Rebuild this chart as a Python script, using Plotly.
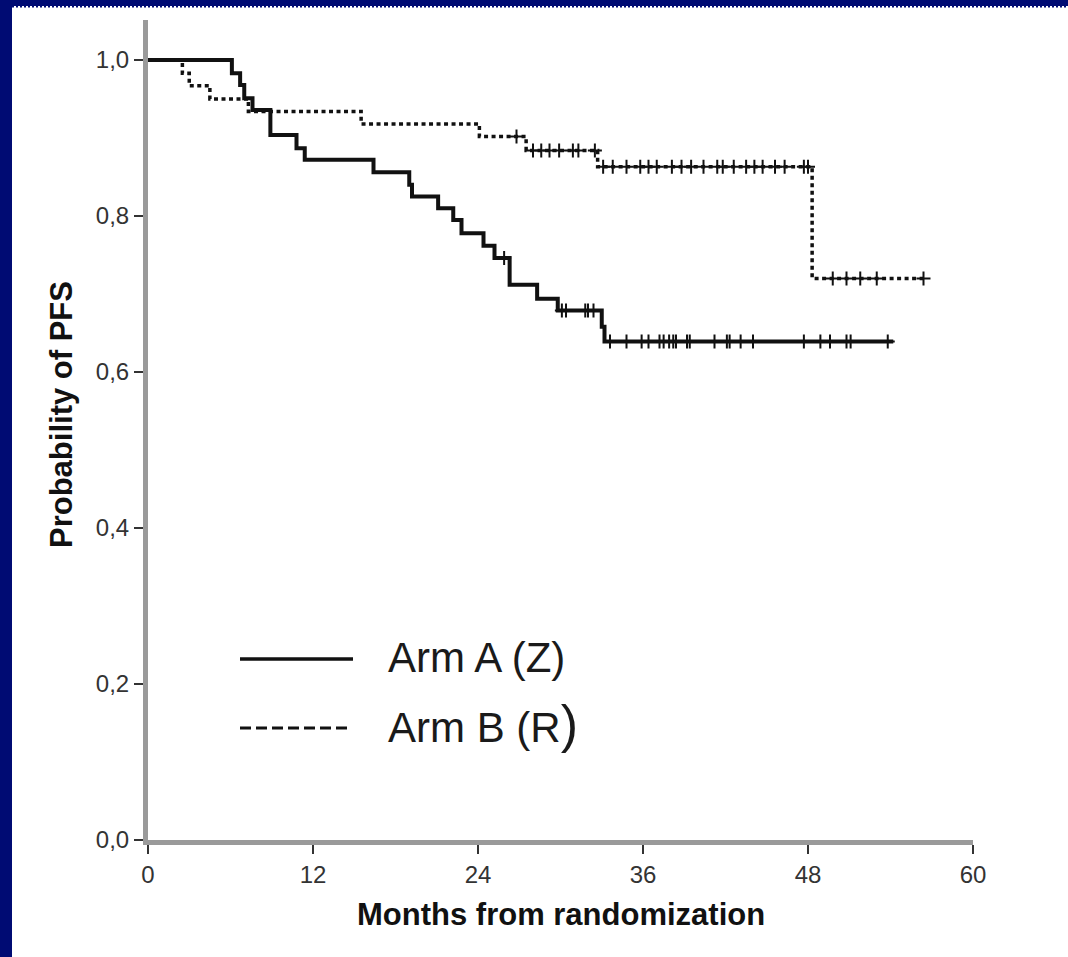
import numpy as np
import plotly.graph_objects as go

# ---------------- data ----------------
x_tick_vals = [0, 12, 24, 36, 48, 60]
x_tick_text = ["0", "12", "24", "36", "48", "60"]
y_tick_vals = [0.0, 0.2, 0.4, 0.6, 0.8, 1.0]
y_tick_text = ["0,0", "0,2", "0,4", "0,6", "0,8", "1,0"]

arm_a_name = "Arm A (Z)"
arm_a_event_times = [6.1, 6.7, 7.0, 7.6, 8.9, 10.8, 11.4, 16.4, 19.0, 19.2, 21.1,
                     22.2, 22.8, 24.4, 25.2, 26.3, 28.3, 29.8, 33.0, 33.2]
arm_a_survival = [0.983, 0.968, 0.951, 0.936, 0.904, 0.887, 0.872, 0.856, 0.840,
                  0.825, 0.810, 0.795, 0.778, 0.762, 0.746, 0.712, 0.694, 0.679,
                  0.658, 0.639]
arm_a_censored = [25.9, 30.1, 30.4, 31.8, 32.0, 32.4, 33.6, 34.8, 35.9, 36.4, 37.2,
                  37.5, 37.9, 38.2, 38.4, 39.2, 39.4, 41.2, 42.1, 42.3, 43.1, 44.0,
                  47.7, 48.9, 49.6, 50.8, 51.1, 53.8]
arm_a_end = 54.2

arm_b_name = "Arm B (R)"
arm_b_event_times = [2.5, 3.0, 4.5, 7.3, 15.5, 24.1, 27.5, 32.7, 48.3]
arm_b_survival = [0.983, 0.967, 0.950, 0.934, 0.918, 0.902, 0.884, 0.863, 0.720]
arm_b_censored = [26.8, 28.0, 28.6, 29.2, 29.9, 30.9, 31.3, 32.5, 33.1, 33.8, 34.8,
                  35.8, 36.4, 37.0, 38.1, 38.8, 39.5, 40.4, 41.4, 41.8, 42.6, 43.5,
                  44.1, 44.7, 45.6, 46.3, 47.7, 48.0, 49.8, 50.8, 51.8, 53.0, 56.4]
arm_b_end = 56.6

# ---------------- helpers ----------------
def km_path(times, surv, end):
    x = [0.0] + list(times) + [end]
    y = [1.0] + list(surv) + [surv[-1]]
    return x, y


def surv_at(times, surv, ts):
    times = np.asarray(times)
    levels = np.concatenate([[1.0], np.asarray(surv)])
    idx = np.searchsorted(times, np.asarray(ts), side="right")
    return levels[idx]


W, H = 1068, 957
L, R, T, B = 148, 95, 20, 117
PW, PH = W - L - R, H - T - B


def px(xp):
    return (xp - L) / PW


def py(yp):
    return (H - B - yp) / PH


NAVY = "#000b73"
INK = "#111111"
FONT = "Liberation Sans, Arial, sans-serif"

fig = go.Figure()

ax, ay = km_path(arm_a_event_times, arm_a_survival, arm_a_end)
bx, by = km_path(arm_b_event_times, arm_b_survival, arm_b_end)

fig.add_trace(go.Scatter(x=ax, y=ay, mode="lines", line_shape="hv", name=arm_a_name,
                         line=dict(color=INK, width=4), showlegend=False))
fig.add_trace(go.Scatter(x=bx, y=by, mode="lines", line_shape="hv", name=arm_b_name,
                         line=dict(color=INK, width=3.5, dash="4px,3.5px"), showlegend=False))
fig.add_trace(go.Scatter(x=arm_a_censored,
                         y=surv_at(arm_a_event_times, arm_a_survival, arm_a_censored),
                         mode="markers", showlegend=False, name=arm_a_name + " censored",
                         marker=dict(symbol="cross-thin", size=10,
                                     line=dict(width=2, color=INK))))
fig.add_trace(go.Scatter(x=arm_b_censored,
                         y=surv_at(arm_b_event_times, arm_b_survival, arm_b_censored),
                         mode="markers", showlegend=False, name=arm_b_name + " censored",
                         marker=dict(symbol="cross-thin", size=10,
                                     line=dict(width=2, color=INK))))

shapes = [
    # white page area (right side kept white)
    dict(type="rect", xref="paper", yref="paper", x0=px(1040), x1=px(W + 30), y0=py(H + 30),
         y1=py(6), fillcolor="white", line=dict(width=0), layer="above"),
    # navy frame (left and top bands)
    dict(type="rect", xref="paper", yref="paper", x0=px(-5), x1=px(12), y0=py(H + 5), y1=py(-5),
         fillcolor=NAVY, line=dict(width=0), layer="above"),
    dict(type="rect", xref="paper", yref="paper", x0=px(-5), x1=px(W + 30), y0=py(6), y1=py(-5),
         fillcolor=NAVY, line=dict(width=0), layer="above"),
    dict(type="line", xref="paper", yref="paper", x0=px(12), x1=px(W + 30), y0=py(6.8), y1=py(6.8),
         line=dict(color=NAVY, width=1.5, dash="2px,2px"), layer="above"),
    # legend samples
    dict(type="line", xref="paper", yref="paper", x0=px(240), x1=px(353), y0=py(659), y1=py(659),
         line=dict(color=INK, width=3.5)),
    dict(type="line", xref="paper", yref="paper", x0=px(240), x1=px(349), y0=py(728), y1=py(728),
         line=dict(color=INK, width=3, dash="11px,5px")),
]

annotations = [
    dict(text="Arm A (Z)", xref="paper", yref="paper", x=px(386), y=py(657),
         xanchor="left", yanchor="middle", showarrow=False,
         font=dict(family=FONT, size=42, color="#1a1a1a")),
    dict(text="Arm B (R<span style='font-size:52px'>)</span>", xref="paper", yref="paper",
         x=px(386), y=py(724), xanchor="left", yanchor="middle", showarrow=False,
         font=dict(family=FONT, size=42, color="#1a1a1a")),
    dict(text="<b>Probability of PFS</b>", xref="paper", yref="paper", x=px(61), y=py(415),
         xanchor="center", yanchor="middle", textangle=-90, showarrow=False,
         font=dict(family=FONT, size=31, color="#111111")),
    dict(text="<b>Months from randomization</b>", xref="paper", yref="paper", x=px(561),
         y=py(914), xanchor="center", yanchor="middle", showarrow=False,
         font=dict(family=FONT, size=31, color="#111111")),
]

axis_common = dict(showgrid=False, zeroline=False, showline=True, linecolor="#9a9a9a",
                   linewidth=5, ticks="outside", ticklen=9, tickwidth=2, tickcolor="#333333",
                   tickfont=dict(family=FONT, size=24, color="#333333"))

fig.update_layout(
    width=W, height=H, autosize=False,
    margin=dict(l=L, r=R, t=T, b=B),
    paper_bgcolor="white", plot_bgcolor="white",
    xaxis=dict(range=[0, 60], tickvals=x_tick_vals, ticktext=x_tick_text, **axis_common),
    yaxis=dict(range=[0, (H - B - T) / 780], tickvals=y_tick_vals, ticktext=y_tick_text,
               **axis_common),
    shapes=shapes, annotations=annotations, showlegend=False,
)

fig.write_html("out.html")
